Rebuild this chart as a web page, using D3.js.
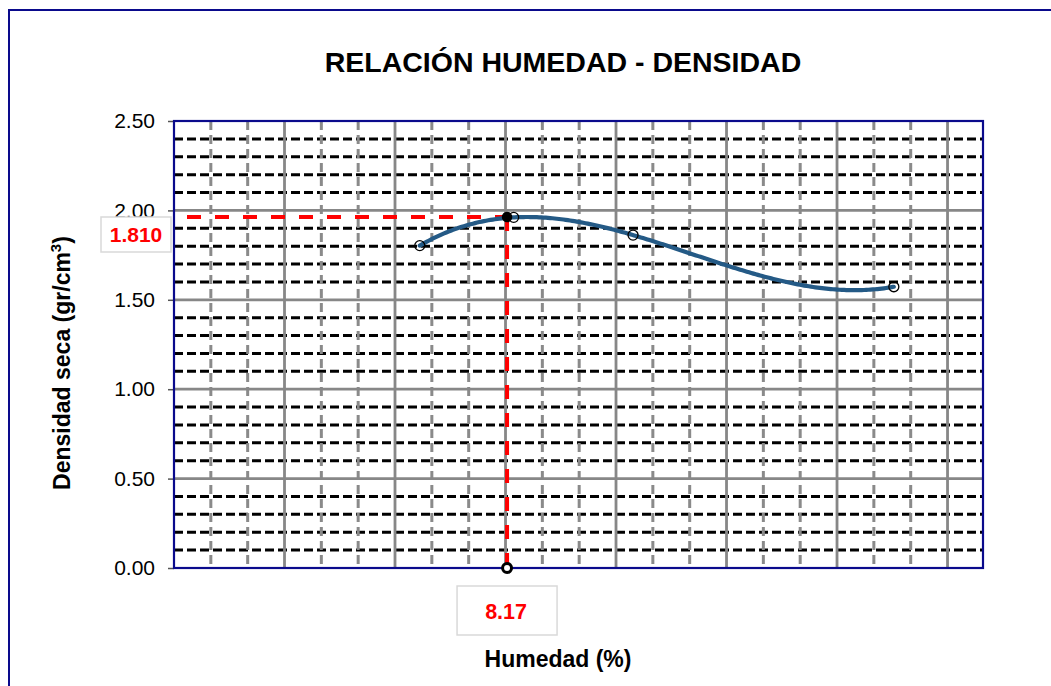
<!DOCTYPE html>
<html><head><meta charset="utf-8">
<script src="https://cdn.jsdelivr.net/npm/d3@7"></script>
<style>
body{margin:0;background:#fff;}
svg{display:block;font-family:"Liberation Sans",Arial,sans-serif;}
</style>
</head><body>
<svg id="c" width="1051" height="686"></svg>
<script>
// ---- data ----
const humedad = [7.38, 8.23, 9.31, 11.67];
const densidad = [1.803, 1.961, 1.862, 1.573];
const optimoHumedad = [8.17];
const optimoDensidad = [1.963];
const etiquetaDensidad = "1.810";
const etiquetaHumedad = "8.17";
const yTicks = [0, 0.5, 1.0, 1.5, 2.0, 2.5];
const yMinorStep = 0.1;
const xDomain = [5.156, 12.477];
const xMajorStep = 1;
const xMinorPerMajor = 3;
const titulo = "RELACIÓN HUMEDAD - DENSIDAD";
const xTitulo = "Humedad (%)";

// ---- layout ----
const svg = d3.select("#c");
const L = 174, R = 983, T = 121, B = 568;
const x = d3.scaleLinear().domain(xDomain).range([L, R]);
const y = d3.scaleLinear().domain([0, 2.5]).range([B, T]);

// outer frame
svg.append("rect").attr("x", 9).attr("y", 10).attr("width", 1100).attr("height", 800)
  .attr("fill", "#fff").attr("stroke", "#0a0a8c").attr("stroke-width", 2);

// gridlines
const g = svg.append("g");
const yMinor = d3.range(yMinorStep, 2.5 - 1e-9, yMinorStep).filter(v => Math.abs(v / 0.5 - Math.round(v / 0.5)) > 1e-6);
g.selectAll(".hmin").data(yMinor).join("line")
  .attr("x1", L).attr("x2", R).attr("y1", d => y(d)).attr("y2", d => y(d))
  .attr("stroke", "#000").attr("stroke-width", 3).attr("stroke-dasharray", "9,4");
const xMajors = d3.range(xDomain[0] + xMajorStep, xDomain[1], xMajorStep);
const xMinors = [];
d3.range(xDomain[0], xDomain[1], xMajorStep).forEach(m => {
  for (let k = 1; k < xMinorPerMajor; k++) {
    const v = m + k * xMajorStep / xMinorPerMajor;
    if (v < xDomain[1] - 0.02) xMinors.push(v);
  }
});
g.selectAll(".vmin").data(xMinors).join("line")
  .attr("x1", d => x(d)).attr("x2", d => x(d)).attr("y1", T).attr("y2", B)
  .attr("stroke", "#8a8a8a").attr("stroke-width", 3).attr("stroke-dasharray", "9,5");
g.selectAll(".vmaj").data(xMajors).join("line")
  .attr("x1", d => x(d)).attr("x2", d => x(d)).attr("y1", T).attr("y2", B)
  .attr("stroke", "#878787").attr("stroke-width", 2.8);
g.selectAll(".hmaj").data(yTicks.slice(1, -1)).join("line")
  .attr("x1", L).attr("x2", R).attr("y1", d => y(d)).attr("y2", d => y(d))
  .attr("stroke", "#878787").attr("stroke-width", 2.8);

// y axis
const ya = svg.append("g").attr("transform", `translate(${L},0)`)
  .call(d3.axisLeft(y).tickValues(yTicks).tickFormat(d3.format(".2f")).tickSize(6).tickPadding(13));
ya.select(".domain").remove();
ya.selectAll(".tick line").attr("stroke", "#555").attr("stroke-width", 1.5);
ya.selectAll(".tick text").attr("font-size", 21).attr("fill", "#000")
  .attr("font-family", "Liberation Sans, Arial, sans-serif");

// plot border
svg.append("rect").attr("x", L).attr("y", T).attr("width", R - L).attr("height", B - T)
  .attr("fill", "none").attr("stroke", "#0a0a8c").attr("stroke-width", 2.2);

// red guide lines
const ox = x(optimoHumedad[0]), oy = y(optimoDensidad[0]);
svg.append("line").attr("x1", L).attr("x2", ox).attr("y1", oy).attr("y2", oy)
  .attr("stroke", "#ff0000").attr("stroke-width", 4).attr("stroke-dasharray", "14,14").attr("stroke-dashoffset", 15);
svg.append("line").attr("x1", ox).attr("x2", ox).attr("y1", oy).attr("y2", B)
  .attr("stroke", "#ff0000").attr("stroke-width", 4).attr("stroke-dasharray", "14,14");

// cubic trend through the points
function poly(v) {
  let s = 0;
  for (let i = 0; i < humedad.length; i++) {
    let t = densidad[i];
    for (let j = 0; j < humedad.length; j++) if (j !== i) t *= (v - humedad[j]) / (humedad[i] - humedad[j]);
    s += t;
  }
  return s;
}
const xs = d3.range(humedad[0], d3.max(humedad), 0.02).concat([d3.max(humedad)]);
svg.append("path").datum(xs)
  .attr("d", d3.line().x(d => x(d)).y(d => y(poly(d))))
  .attr("fill", "none").attr("stroke", "#245a86").attr("stroke-width", 4.2).attr("stroke-linecap", "round");

// points
svg.selectAll(".pt").data(humedad).join("circle")
  .attr("cx", d => x(d)).attr("cy", (d, i) => y(densidad[i])).attr("r", 5)
  .attr("fill", "none").attr("stroke", "#000").attr("stroke-width", 1.3);

// optimum markers
svg.append("circle").attr("cx", ox).attr("cy", oy).attr("r", 4.5).attr("fill", "#000").attr("stroke", "#000").attr("stroke-width", 1.5);
svg.append("circle").attr("cx", ox).attr("cy", B).attr("r", 4.5).attr("fill", "#fff").attr("stroke", "#000").attr("stroke-width", 3);

// label boxes
svg.append("rect").attr("x", 101).attr("y", 217).attr("width", 70).attr("height", 35)
  .attr("fill", "#fff").attr("stroke", "#d9d9d9").attr("stroke-width", 1.5);
svg.append("text").attr("x", 136).attr("y", 242).attr("text-anchor", "middle")
  .attr("font-size", 21).attr("font-weight", "bold").attr("fill", "#ff0000").text(etiquetaDensidad);
svg.append("rect").attr("x", ox - 50).attr("y", 586).attr("width", 100).attr("height", 49)
  .attr("fill", "#fff").attr("stroke", "#d9d9d9").attr("stroke-width", 1.5);
svg.append("text").attr("x", ox - 1).attr("y", 619).attr("text-anchor", "middle")
  .attr("font-size", 21.5).attr("font-weight", "bold").attr("fill", "#ff0000").text(etiquetaHumedad);

// titles
svg.append("text").attr("x", 563).attr("y", 72).attr("text-anchor", "middle")
  .attr("font-size", 28.5).attr("font-weight", "bold").attr("fill", "#000").text(titulo);
svg.append("text").attr("x", 558).attr("y", 667).attr("text-anchor", "middle")
  .attr("font-size", 23).attr("font-weight", "bold").attr("fill", "#000").text(xTitulo);
const yl = svg.append("text").attr("transform", "translate(70,363) rotate(-90)").attr("text-anchor", "middle")
  .attr("font-size", 23).attr("font-weight", "bold").attr("fill", "#000");
yl.append("tspan").text("Densidad seca (gr/cm");
yl.append("tspan").attr("font-size", 15).attr("dy", -9).text("3");
yl.append("tspan").attr("dy", 9).text(")");
</script>
</body></html>
